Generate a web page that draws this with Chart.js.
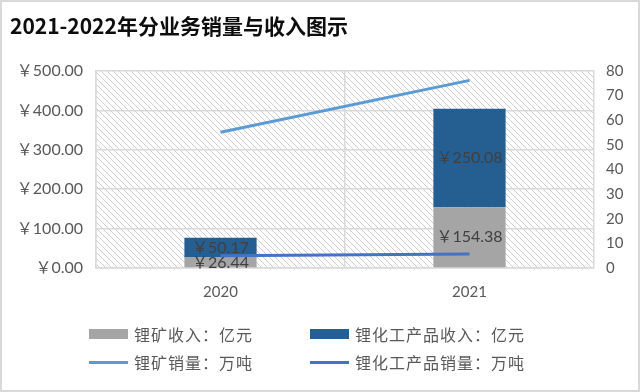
<!DOCTYPE html>
<html><head><meta charset="utf-8">
<script src="https://cdn.jsdelivr.net/npm/chart.js@4/dist/chart.umd.min.js"></script>
<style>
html,body{margin:0;padding:0;background:#fff;}
#stage{position:relative;width:640px;height:392px;overflow:hidden;}
#cv{position:absolute;left:0;top:0;}
#frame{position:absolute;left:0;top:0;width:640px;height:392px;box-sizing:border-box;border:2px solid #d9d9d9;pointer-events:none;}
#title{position:absolute;left:10px;top:11px;font:bold 21px "Noto Sans CJK SC",sans-serif;color:#0d0d0d;line-height:28px;white-space:nowrap;}
#legend{position:absolute;left:89px;top:320px;display:grid;grid-template-columns:221px auto;grid-auto-rows:28px;font:16px "Noto Sans CJK SC",sans-serif;color:#595959;}
.li{display:flex;align-items:center;white-space:nowrap;}
.sw{width:39px;margin-right:6px;flex:none;}
</style></head>
<body>
<div id="stage">
<canvas id="cv" width="640" height="392"></canvas>
<div id="title">2021-2022年分业务销量与收入图示</div>
<div id="legend"></div>
<div id="frame"></div>
</div>
<script>
const categories = ['2020', '2021'];
const mineRevenue = [26.44, 154.38];   // 锂矿收入：亿元
const chemRevenue = [50.17, 250.08];   // 锂化工产品收入：亿元
const mineVolume = [55.1, 76.2];       // 锂矿销量：万吨
const chemVolume = [5.0, 5.7];         // 锂化工产品销量：万吨
const leftTicks = [0, 100, 200, 300, 400, 500];
const rightTicks = [0, 10, 20, 30, 40, 50, 60, 70, 80];
const seriesNames = ['锂矿收入：亿元', '锂化工产品收入：亿元', '锂矿销量：万吨', '锂化工产品销量：万吨'];

const PLOT_LEFT = 96, PLOT_RIGHT = 594, PLOT_TOP = 71, PLOT_BOTTOM = 268;
const tickFont = {family: "Lato, 'Noto Sans CJK SC', sans-serif", size: 16};
const yen = v => '\uFFE5' + Number(v).toFixed(2);

const hatchPlugin = {
  id: 'hatch',
  beforeDraw(chart) {
    const {ctx, chartArea: a} = chart;
    const s = 6;
    const p = document.createElement('canvas'); p.width = s; p.height = s;
    const c = p.getContext('2d');
    c.strokeStyle = '#cfcfcf'; c.lineWidth = 1;
    c.beginPath();
    c.moveTo(-1, -1); c.lineTo(s + 1, s + 1);
    c.moveTo(-1, s - 1); c.lineTo(1, s + 1);
    c.moveTo(s - 1, -1); c.lineTo(s + 1, 1);
    c.stroke();
    ctx.save();
    ctx.fillStyle = ctx.createPattern(p, 'repeat');
    ctx.fillRect(a.left, a.top, a.right - a.left, a.bottom - a.top);
    ctx.restore();
  }
};

const labelPlugin = {
  id: 'barLabels',
  afterDatasetsDraw(chart) {
    const {ctx} = chart;
    ctx.save();
    ctx.font = "16px Lato, 'Noto Sans CJK SC', sans-serif";
    ctx.fillStyle = '#404040';
    ctx.textAlign = 'center';
    ctx.textBaseline = 'middle';
    chart.data.datasets.forEach((ds, i) => {
      if (ds.type !== 'bar') return;
      const meta = chart.getDatasetMeta(i);
      meta.data.forEach((el, j) => {
        ctx.fillText(yen(ds.data[j]), el.x, (el.y + el.base) / 2);
      });
    });
    ctx.restore();
  }
};

const chart = new Chart(document.getElementById('cv'), {
  data: {
    labels: categories,
    datasets: [
      {type: 'line', label: seriesNames[2], data: mineVolume, yAxisID: 'y1', borderColor: '#5b9bd5', backgroundColor: '#5b9bd5', borderWidth: 3, pointRadius: 0, tension: 0, order: 0, stack: 's3'},
      {type: 'line', label: seriesNames[3], data: chemVolume, yAxisID: 'y1', borderColor: '#4472c4', backgroundColor: '#4472c4', borderWidth: 3, pointRadius: 0, tension: 0, order: 0, stack: 's4'},
      {type: 'bar', label: seriesNames[0], data: mineRevenue, yAxisID: 'y', backgroundColor: '#a5a5a5', order: 1, stack: 'rev', barPercentage: 0.29, categoryPercentage: 1},
      {type: 'bar', label: seriesNames[1], data: chemRevenue, yAxisID: 'y', backgroundColor: '#255e91', order: 1, stack: 'rev', barPercentage: 0.29, categoryPercentage: 1}
    ]
  },
  options: {
    responsive: false,
    animation: false,
    layout: {padding: {left: 0, right: 0, top: PLOT_TOP, bottom: 0}},
    plugins: {legend: {display: false}, title: {display: false}, tooltip: {enabled: false}},
    scales: {
      x: {
        stacked: true,
        grid: {color: '#d9d9d9', lineWidth: 1.5, drawTicks: false, offset: true},
        border: {color: '#d9d9d9', width: 1.5},
        ticks: {color: '#595959', font: {...tickFont, size: 15}, padding: 15},
        afterFit(s) { s.height = 392 - PLOT_BOTTOM; }
      },
      y: {
        position: 'left', stacked: true, min: leftTicks[0], max: leftTicks[leftTicks.length - 1],
        afterBuildTicks(s) { s.ticks = leftTicks.map(v => ({value: v})); },
        grid: {color: '#d9d9d9', lineWidth: 1.5, drawTicks: false},
        border: {color: '#d9d9d9', width: 1.5},
        ticks: {color: '#595959', font: tickFont, padding: 13, callback: v => yen(v)},
        afterFit(s) { s.width = PLOT_LEFT; }
      },
      y1: {
        position: 'right', stacked: false, min: rightTicks[0], max: rightTicks[rightTicks.length - 1],
        afterBuildTicks(s) { s.ticks = rightTicks.map(v => ({value: v})); },
        grid: {drawOnChartArea: false, drawTicks: false},
        border: {display: false},
        ticks: {color: '#595959', font: {...tickFont, size: 15}, padding: 12},
        afterFit(s) { s.width = 640 - PLOT_RIGHT; }
      }
    }
  },
  plugins: [hatchPlugin, labelPlugin]
});

// HTML legend built from the chart datasets (2 x 2 grid)
const legendOrder = [2, 3, 0, 1];
const lg = document.getElementById('legend');
legendOrder.forEach(i => {
  const ds = chart.data.datasets[i];
  const item = document.createElement('div'); item.className = 'li';
  const sw = document.createElement('span'); sw.className = 'sw';
  if (ds.type === 'bar') { sw.style.height = '10px'; sw.style.background = ds.backgroundColor; }
  else { sw.style.height = '3px'; sw.style.background = ds.borderColor; }
  const tx = document.createElement('span'); tx.textContent = ds.label; tx.style.letterSpacing = '1px';
  item.appendChild(sw); item.appendChild(tx);
  lg.appendChild(item);
});
</script>
</body></html>
